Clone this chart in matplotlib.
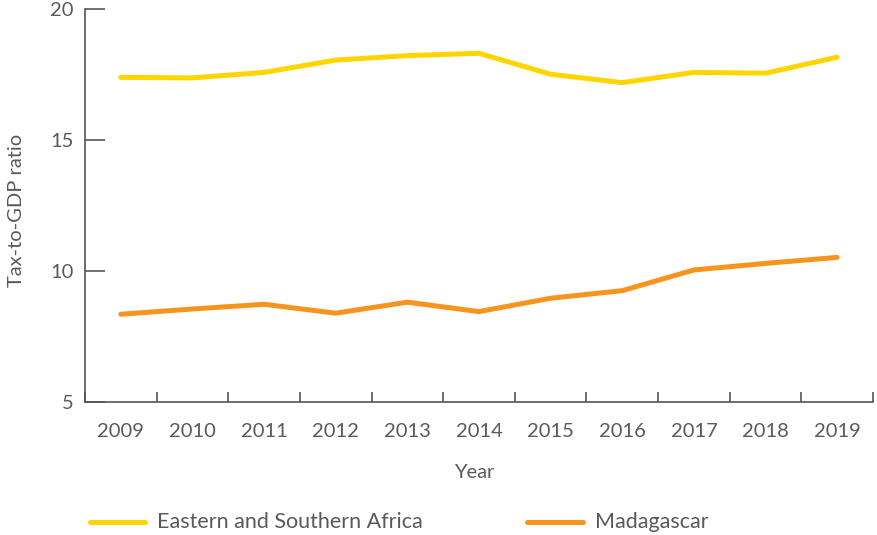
import matplotlib
matplotlib.use("Agg")
import matplotlib.pyplot as plt
from matplotlib.lines import Line2D

years = ["2009", "2010", "2011", "2012", "2013", "2014", "2015", "2016", "2017", "2018", "2019"]
esa = [17.39, 17.37, 17.58, 18.05, 18.22, 18.31, 17.51, 17.19, 17.58, 17.55, 18.16]
madagascar = [8.35, 8.55, 8.73, 8.39, 8.81, 8.45, 8.96, 9.25, 10.04, 10.29, 10.52]
series_names = ["Eastern and Southern Africa", "Madagascar"]
yticks = [5, 10, 15, 20]

YELLOW = "#FFD500"
ORANGE = "#F7941D"
GRAY = "#555555"
TXT = "#5a5a5a"
FS = 14.5

plt.rcParams["font.family"] = ["Lato", "DejaVu Sans"]

fig = plt.figure(figsize=(8.77, 5.35), dpi=100)
ax = fig.add_axes([85/877, 1-402/535, (873-85)/877, (402-9)/535])

x = list(range(len(years)))
ax.plot(x, esa, color=YELLOW, lw=3.6, solid_capstyle="round", solid_joinstyle="round")
ax.plot(x, madagascar, color=ORANGE, lw=3.6, solid_capstyle="round", solid_joinstyle="round")

ax.set_xlim(-0.5, len(years) - 0.5)
ax.set_ylim(5, 20)

ax.set_xticks(x)
ax.set_xticklabels(years)
ax.set_xticks([i + 0.5 for i in range(-1, len(years))], minor=True)
ax.tick_params(axis="x", which="major", length=0, pad=15, labelsize=FS, labelcolor=TXT)
ax.tick_params(axis="x", which="minor", length=7.5, width=1.2, direction="in", color=GRAY)

ax.set_yticks(yticks)
ax.tick_params(axis="y", which="major", length=14.5, width=1.2, direction="in", color=GRAY,
               pad=8, labelsize=FS, labelcolor=TXT)

for s in ["top", "right"]:
    ax.spines[s].set_visible(False)
for s in ["left", "bottom"]:
    ax.spines[s].set_color(GRAY)
    ax.spines[s].set_linewidth(1.2)

fig.text(474/877, 1-473/535, "Year", ha="center", va="center", fontsize=FS, color=TXT)
fig.text(17/877, 1-210/535, "Tax-to-GDP ratio", ha="center", va="center", rotation=90,
         fontsize=FS, color=TXT)

# legend
for (x0, x1, tx), name, col in zip([(90, 145, 157), (527, 583, 595)], series_names, [YELLOW, ORANGE]):
    yy = 1 - 522/535
    fig.add_artist(Line2D([x0/877, x1/877], [yy, yy], color=col, lw=3.6,
                          solid_capstyle="round", transform=fig.transFigure))
    fig.text(tx/877, yy, name, ha="left", va="center", fontsize=15.5, color=TXT)

fig.savefig("out.png", dpi=100)
